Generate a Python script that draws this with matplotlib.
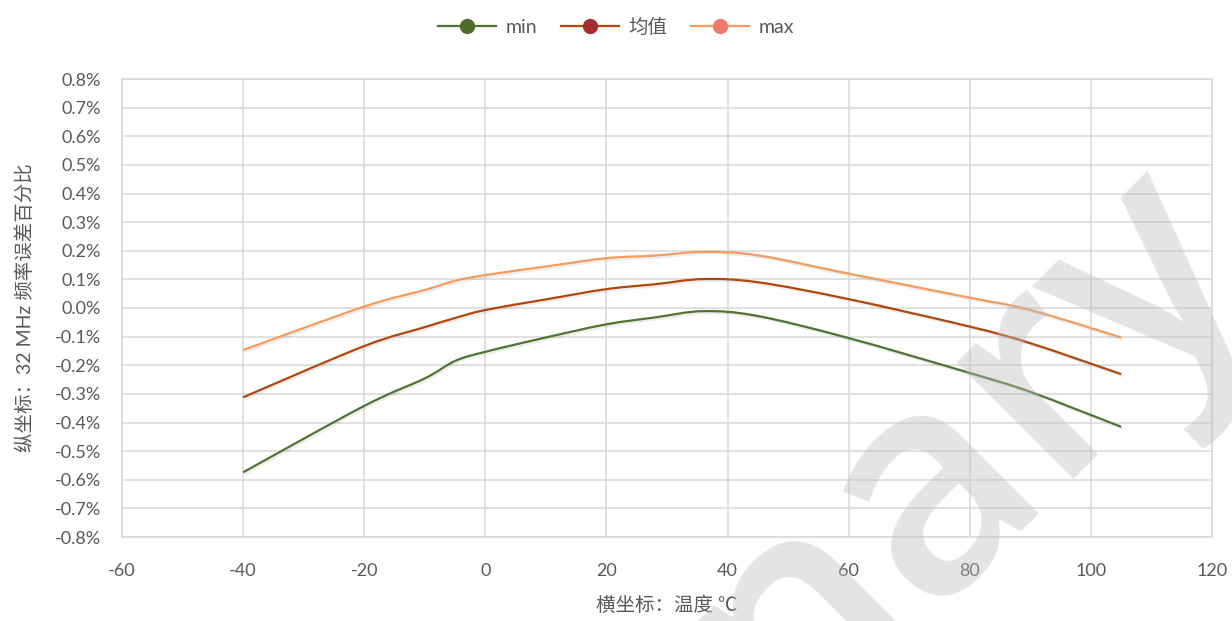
import matplotlib
matplotlib.use("Agg")
import matplotlib.pyplot as plt
import numpy as np
from matplotlib.path import Path
from matplotlib.patches import PathPatch
from matplotlib.lines import Line2D
import matplotlib.patheffects as pe
from matplotlib.ticker import MultipleLocator, FuncFormatter

plt.rcParams['font.family'] = ['Lato', 'Noto Sans CJK SC', 'DejaVu Sans']
plt.rcParams['axes.unicode_minus'] = False

# ---- data ----
temps = [-40, -20, -10, -5, 0, 10, 20, 28, 36, 45, 60, 80, 90, 105]
series_names = ['min', '均值', 'max']
min_vals = [-0.574, -0.342, -0.246, -0.185, -0.153, -0.103, -0.057, -0.033, -0.011, -0.028, -0.105, -0.227, -0.293, -0.415]
mean_vals = [-0.312, -0.133, -0.067, -0.035, -0.007, 0.030, 0.066, 0.083, 0.101, 0.090, 0.031, -0.065, -0.123, -0.231]
max_vals = [-0.147, 0.005, 0.063, 0.095, 0.115, 0.145, 0.174, 0.183, 0.196, 0.184, 0.120, 0.036, -0.007, -0.103]

line_colors = ['#4E7431', '#B0470E', '#F59B5E']
marker_colors = ['#4F6B2A', '#A3302A', '#F2796E']

xlabel = '横坐标：温度 ℃'
ylabel = '纵坐标：32 MHz 频率误差百分比'
watermark = 'Preliminary'

W, H = 1232, 621
fig = plt.figure(figsize=(W / 100, H / 100), dpi=100)
ax = fig.add_axes([122 / W, 1 - 537 / H, (1212 - 122) / W, (537 - 79) / H])

ax.set_xlim(-60, 120)
ax.set_ylim(-0.8, 0.8)
ax.xaxis.set_major_locator(MultipleLocator(20))
ax.yaxis.set_major_locator(MultipleLocator(0.1))
ax.yaxis.set_major_formatter(FuncFormatter(lambda v, p: f'{v:.1f}%'.replace('-0.0%', '0.0%')))
ax.grid(True, color='#D9D9D9', linewidth=1.1, zorder=0)
ax.set_axisbelow(True)
for s in ax.spines.values():
    s.set_color('#D9D9D9')
    s.set_linewidth(1.1)
ax.tick_params(length=0, labelsize=13, colors='#595959')
ax.tick_params(axis='x', pad=19)
ax.tick_params(axis='y', pad=15)


def smooth_path(xs, ys):
    pts = np.column_stack([xs, ys]).astype(float)
    n = len(pts)
    verts = [pts[0]]
    codes = [Path.MOVETO]
    for i in range(n - 1):
        p0 = pts[i - 1] if i > 0 else pts[i]
        p1 = pts[i]
        p2 = pts[i + 1]
        p3 = pts[i + 2] if i + 2 < n else pts[i + 1]
        c1 = p1 + (p2 - p0) / 6.0
        c2 = p2 - (p3 - p1) / 6.0
        verts += [c1, c2, p2]
        codes += [Path.CURVE4] * 3
    return Path(verts, codes)


for vals, col in zip([min_vals, mean_vals, max_vals], line_colors):
    patch = PathPatch(smooth_path(temps, vals), facecolor='none', edgecolor=col,
                      linewidth=1.6, zorder=3)
    patch.set_path_effects([pe.SimpleLineShadow(offset=(1, -1.5), shadow_color='#000000', alpha=0.07, rho=1),
                            pe.Normal()])
    ax.add_patch(patch)

# watermark
fig.text(1.02, 0.57, watermark, fontsize=220, color='#BDBDBD', alpha=0.4,
         rotation=45, rotation_mode='anchor', ha='right', va='baseline',
         family=['Open Sans'], weight='semibold', zorder=2)

ax.set_xlabel(xlabel, fontsize=14, color='#595959', va='center')
ax.xaxis.set_label_coords(0.5, -(605 - 537) / 458)
ax.set_ylabel(ylabel, fontsize=14, color='#595959', va='center')
ax.yaxis.set_label_coords(-(122 - 25) / 1090, 0.5)

handles = [Line2D([0], [0], color=lc, linewidth=1.6, marker='o', markersize=10,
                  markerfacecolor=mc, markeredgecolor=mc)
           for lc, mc in zip(line_colors, marker_colors)]
fig.legend(handles, series_names, loc='center', bbox_to_anchor=(0.5, 1 - 27 / H),
           ncol=3, frameon=False, fontsize=14, handlelength=3.0, columnspacing=1.2,
           handletextpad=0.5, labelcolor='#595959')

fig.savefig('out.png', dpi=100)
